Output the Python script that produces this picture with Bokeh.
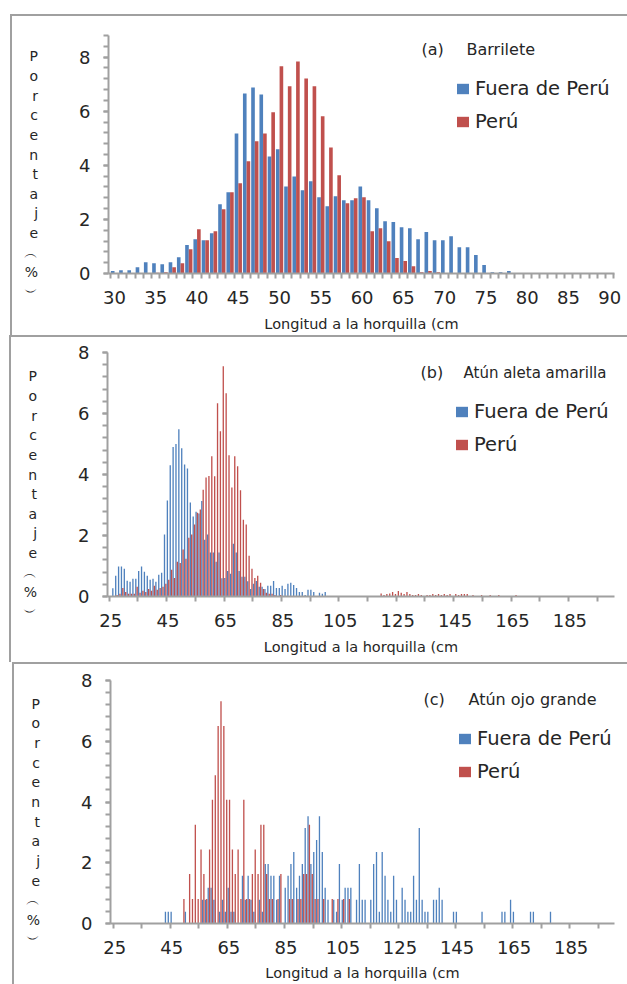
from bokeh.plotting import figure
from bokeh.models import (ColumnDataSource, FixedTicker, Label, Legend, LegendItem, Range1d)
from bokeh.layouts import column
from bokeh.transform import dodge
from bokeh.embed import file_html
from bokeh.resources import INLINE

BLUE = "#4F81BD"
RED = "#C0504D"
FONT = "DejaVu Sans"
TXT = "#262626"
AXC = "#A0A0A0"

SERIES = ["Fuera de Perú", "Perú"]
X_TITLE = "Longitud a la horquilla (cm"
Y_TITLE = "\n\nP\no\nr\nc\ne\nn\nt\na\nj\ne\n\ufe35\n%\n\ufe36"

# ---------------- (a) Barrilete ----------------
a_title = ["(a)", "Barrilete"]
a_cm = [30, 31, 32, 33, 34, 35, 36, 37, 38, 39, 40, 41, 42, 43, 44, 45, 46, 47, 48, 49,
        50, 51, 52, 53, 54, 55, 56, 57, 58, 59, 60, 61, 62, 63, 64, 65, 66, 67, 68, 69,
        70, 71, 72, 73, 74, 75, 76, 77, 78, 79, 80, 81, 82, 83, 84, 85, 86, 87, 88, 89, 90]
a_fuera = [0.09, 0.12, 0.12, 0.23, 0.42, 0.38, 0.34, 0.42, 0.60, 1.05,
           1.27, 1.23, 1.49, 2.56, 3.00, 5.18, 6.66, 6.88, 6.62, 4.33,
           4.59, 3.22, 3.59, 3.08, 3.41, 2.82, 2.49, 2.86, 2.71, 2.71,
           3.22, 2.71, 2.41, 1.93, 1.90, 1.71, 1.67, 1.27, 1.53, 1.23,
           1.23, 1.38, 0.97, 0.97, 0.68, 0.31, 0.05, 0.05, 0.09, 0.0,
           0, 0, 0, 0, 0, 0, 0, 0, 0, 0, 0]
a_peru = [0, 0, 0, 0, 0, 0.03, 0.05, 0.23, 0.38, 0.90,
          1.64, 1.23, 1.56, 2.38, 3.00, 3.34, 4.15, 4.89, 5.18, 5.96,
          7.66, 6.92, 7.84, 7.21, 6.92, 5.81, 4.66, 3.63, 2.60, 2.78,
          2.82, 1.56, 1.67, 1.19, 0.57, 0.46, 0.27, 0.05, 0.09, 0.05,
          0, 0, 0, 0, 0, 0, 0, 0, 0, 0,
          0, 0, 0, 0, 0, 0, 0, 0, 0, 0, 0]
a_xticks = [30, 35, 40, 45, 50, 55, 60, 65, 70, 75, 80, 85, 90]

# ---------------- (b) Atún aleta amarilla ----------------
b_title = ["(b)", "Atún aleta amarilla"]
b_fuera_cm = [26, 27, 28, 29, 30, 31, 32, 33, 34, 35, 36, 37, 38, 39, 40, 41, 42, 43, 44, 45,
              46, 47, 48, 49, 50, 51, 52, 53, 54, 55, 56, 57, 58, 59, 60, 61, 62, 63, 64, 65,
              66, 67, 68, 69, 70, 71, 72, 73, 74, 75, 76, 77, 78, 79, 80, 81, 82, 83, 84, 85,
              86, 87, 88, 89, 90, 91, 92, 93, 94, 95, 96, 98, 99, 100]
b_fuera = [0.27, 0.68, 0.98, 0.98, 0.91, 0.52, 0.48, 0.58, 0.58, 0.84,
           0.98, 0.81, 0.68, 0.55, 0.58, 0.48, 0.71, 0.78, 2.03, 3.15,
           4.30, 4.90, 5.00, 5.48, 4.86, 4.33, 4.20, 3.08, 2.62, 2.78,
           2.72, 3.13, 1.86, 2.03, 1.44, 1.44, 1.14, 1.44, 0.60, 0.61,
           0.84, 0.75, 1.73, 1.44, 0.84, 0.65, 0.65, 0.50, 0.25, 0.42,
           0.51, 0.32, 0.32, 0.25, 0.35, 0.35, 0.51, 0.28, 0.28, 0.35,
           0.25, 0.42, 0.45, 0.38, 0.28, 0.15, 0.15, 0.05, 0.22, 0.22,
           0.15, 0.12, 0.09, 0.15]
b_peru_cm = [27, 28, 29, 30, 31, 32, 33, 34, 35, 36, 37, 38, 39, 40, 41, 42, 43, 44, 45, 46,
             47, 48, 49, 50, 51, 52, 53, 54, 55, 56, 57, 58, 59, 60, 61, 62, 63, 64, 65, 66,
             67, 68, 69, 70, 71, 72, 73, 74, 75, 76, 77, 78, 79, 80, 81, 82, 84,
             119, 120, 121, 122, 123, 124, 125, 126, 127, 128, 129, 130, 131, 132, 133,
             135, 136, 137, 138, 139, 140, 141, 142, 143, 145, 146, 147, 148, 149,
             151, 154, 157, 160, 166]
b_peru = [0.05, 0.09, 0.28, 0.15, 0.09, 0.09, 0.09, 0.32, 0.12, 0.19,
          0.15, 0.25, 0.19, 0.35, 0.22, 0.28, 0.32, 0.42, 0.55, 0.88,
          0.61, 1.14, 1.10, 1.54, 1.24, 1.93, 2.03, 2.36, 2.75, 2.85,
          3.50, 3.90, 3.95, 4.60, 3.94, 6.34, 5.42, 7.55, 6.66, 4.63,
          3.57, 4.60, 4.27, 3.48, 2.52, 2.36, 1.34, 0.91, 0.61, 0.68,
          0.45, 0.25, 0.12, 0.09, 0.09, 0.05, 0.05,
          0.10, 0.05, 0.08, 0.10, 0.15, 0.08, 0.18, 0.12, 0.08, 0.15, 0.08, 0.05, 0.05, 0.08, 0.05,
          0.05, 0.05, 0.08, 0.05, 0.08, 0.05, 0.08, 0.05, 0.08, 0.08, 0.05, 0.08, 0.08, 0.08,
          0.05, 0.05, 0.05, 0.05, 0.05]
bc_xticks = [25, 45, 65, 85, 105, 125, 145, 165, 185]

# ---------------- (c) Atún ojo grande ----------------
c_title = ["(c)", "Atún ojo grande"]
c_fuera_cm = [43, 44, 45, 50, 56, 57, 58, 59, 60, 62, 63, 64, 65, 66, 67, 70, 71, 72, 73, 74,
              76, 77, 78, 79, 80, 81, 82, 83, 85, 86, 87, 88, 89, 90, 91, 92, 93, 94, 95, 96,
              97, 98, 99, 100, 102, 103, 104, 105, 106, 107, 108, 110, 111, 112, 113, 115, 116,
              117, 118, 119, 120, 121, 122, 123, 124, 126, 127, 128, 129, 130, 131, 132, 133,
              134, 135, 137, 138, 139, 140, 144, 145, 154, 161, 162, 164, 165, 171, 172, 178]
c_fuera = [0.39, 0.39, 0.39, 0.39, 0.78, 0.78, 1.18, 1.18, 0.78, 0.39, 0.78, 0.39, 1.18, 0.39, 0.39,
           1.57, 0.78, 1.57, 0.78, 0.39,
           0.78, 0.39, 1.96, 1.96, 1.57, 1.57, 0.78, 1.57, 1.18, 1.57, 1.96, 2.35, 1.18, 1.57, 1.96,
           3.14, 3.53, 1.96, 2.35, 2.75,
           3.53, 2.35, 1.18, 0.78, 0.78, 0.39, 1.96, 0.78, 1.18, 1.18, 1.18, 0.78, 1.96, 0.78, 0.78,
           0.78, 1.96,
           2.35, 0.39, 2.35, 1.57, 0.78, 0.39, 1.57, 0.78, 1.18, 0.78, 0.39, 0.39, 1.57, 0.78, 3.14,
           0.78,
           0.39, 0.39, 0.78, 0.78, 1.18, 0.78, 0.39, 0.39, 0.39, 0.39, 0.39, 0.78, 0.39, 0.39, 0.39,
           0.39]
c_peru_cm = [49, 51, 52, 53, 54, 55, 56, 57, 58, 59, 60, 61, 62, 63, 64, 65, 66, 67, 68, 69,
             70, 71, 72, 73, 74, 75, 76, 77, 78, 79, 80, 82, 83, 86, 87, 89, 90, 91, 92, 93,
             94, 95, 96, 98, 101, 103, 105, 107]
c_peru = [0.81, 1.63, 0.81, 3.25, 0.81, 2.44, 1.63, 0.81, 2.44, 4.07,
          4.88, 6.50, 7.32, 6.50, 4.07, 4.07, 2.44, 1.63, 2.44, 0.81,
          4.07, 0.81, 0.81, 1.63, 2.44, 1.63, 3.25, 3.25, 1.63, 0.81,
          0.81, 0.81, 1.63, 0.81, 0.81, 0.81, 0.81, 1.63, 1.63, 3.25,
          1.63, 0.81, 0.81, 0.81, 0.81, 0.81, 0.81, 0.81]


def make_panel(title, title_size, title_x2, fuera_cm, fuera, peru_cm, peru, xr, yend, xticks,
               xminor, width, height, margin, borders, bar_w, bar_off, xlab_standoff):
    bl, br, bt, bb = borders
    p = figure(width=width, height=height, x_range=Range1d(*xr), y_range=Range1d(0, yend),
               output_backend="svg", toolbar_location=None,
               min_border_left=bl, min_border_right=br, min_border_top=bt, min_border_bottom=bb)
    p.margin = margin
    p.styles = {"box-shadow": "inset 2px 2px 0 0 %s" % AXC}
    p.border_fill_color = None
    p.background_fill_color = None
    p.outline_line_color = None
    p.xgrid.visible = False
    p.ygrid.visible = False

    sf = ColumnDataSource(dict(cm=fuera_cm, pct=fuera))
    sp = ColumnDataSource(dict(cm=peru_cm, pct=peru))
    rf = p.vbar(x=dodge("cm", -bar_off, range=p.x_range), top="pct", width=bar_w,
                source=sf, fill_color=BLUE, line_color=None)
    rp = p.vbar(x=dodge("cm", bar_off, range=p.x_range), top="pct", width=bar_w,
                source=sp, fill_color=RED, line_color=None)

    yminor = [round(0.4 * i, 1) for i in range(int(round(yend / 0.4)) + 1)]
    p.yaxis.ticker = FixedTicker(ticks=[0, 2, 4, 6, 8], minor_ticks=yminor)
    p.xaxis.ticker = FixedTicker(ticks=xticks, minor_ticks=xminor)
    for ax in (p.xaxis[0], p.yaxis[0]):
        ax.axis_line_color = AXC
        ax.axis_line_width = 2
        ax.major_tick_in = 0
        ax.major_tick_out = 5
        ax.minor_tick_in = 0
        ax.minor_tick_out = 5
        ax.major_tick_line_color = AXC
        ax.major_tick_line_width = 2
        ax.minor_tick_line_color = AXC
        ax.minor_tick_line_width = 2
        ax.major_label_text_font = FONT
        ax.major_label_text_font_size = "18px"
        ax.major_label_text_color = TXT
        ax.axis_label_text_font = FONT
        ax.axis_label_text_font_style = "normal"
        ax.axis_label_text_color = TXT
    p.xaxis.major_tick_line_color = None
    p.yaxis.major_label_standoff = 13
    p.xaxis.major_label_standoff = 12

    p.xaxis.axis_label = X_TITLE
    p.xaxis.axis_label_text_font_size = "14.5px"
    p.xaxis.axis_label_standoff = xlab_standoff

    p.yaxis.axis_label = Y_TITLE
    p.yaxis.axis_label_orientation = "horizontal"
    p.yaxis.axis_label_text_font_size = "14px"
    p.yaxis.axis_label_text_line_height = 1.227
    p.yaxis.axis_label_text_align = "center"
    p.yaxis.axis_label_standoff = 38

    # panel title
    p.add_layout(Label(x=313, y=224, x_units="screen", y_units="screen", text=title[0],
                       text_font=FONT, text_font_size="16px", text_color=TXT,
                       text_align="left", text_baseline="middle"))
    p.add_layout(Label(x=title_x2, y=224, x_units="screen", y_units="screen", text=title[1],
                       text_font=FONT, text_font_size=title_size, text_color=TXT,
                       text_align="left", text_baseline="middle"))
    # legend
    leg = Legend(items=[LegendItem(label=SERIES[0], renderers=[rf]),
                        LegendItem(label=SERIES[1], renderers=[rp])],
                 location=(347, 140), orientation="vertical",
                 border_line_color=None, background_fill_alpha=0,
                 label_text_font=FONT, label_text_font_size="19.5px", label_text_color=TXT,
                 glyph_width=15, glyph_height=13, label_standoff=5, spacing=10,
                 padding=0, margin=0, label_height=21)
    p.add_layout(leg)
    return p


a_minor = [29.5 + i for i in range(62)]
bc_minor = [24.5 + 10 * i for i in range(18)]

p1 = make_panel(a_title, "16px", 358, a_cm, a_fuera, a_cm, a_peru, (29.27, 90.58), 8.8,
                a_xticks, a_minor, 617, 321, (14, 0, 0, 10), (97, 13, 21, 62), 0.44, 0.22, 9)
p2 = make_panel(b_title, "15px", 356, b_fuera_cm, b_fuera, b_peru_cm, b_peru, (23.9, 200.55), 8,
                bc_xticks, bc_minor, 618, 327, (0, 0, 0, 9), (98, 13, 17, 66), 0.46, 0.24, 9)
p3 = make_panel(c_title, "16px", 358, c_fuera_cm, c_fuera, c_peru_cm, c_peru, (23.5, 200.2), 8,
                bc_xticks, bc_minor, 615, 322, (0, 0, 0, 12), (96, 11, 18, 61), 0.46, 0.24, 8)

layout = column(p1, p2, p3, spacing=0)
layout.margin = 0
open("out.html", "w").write(file_html(layout, INLINE))
